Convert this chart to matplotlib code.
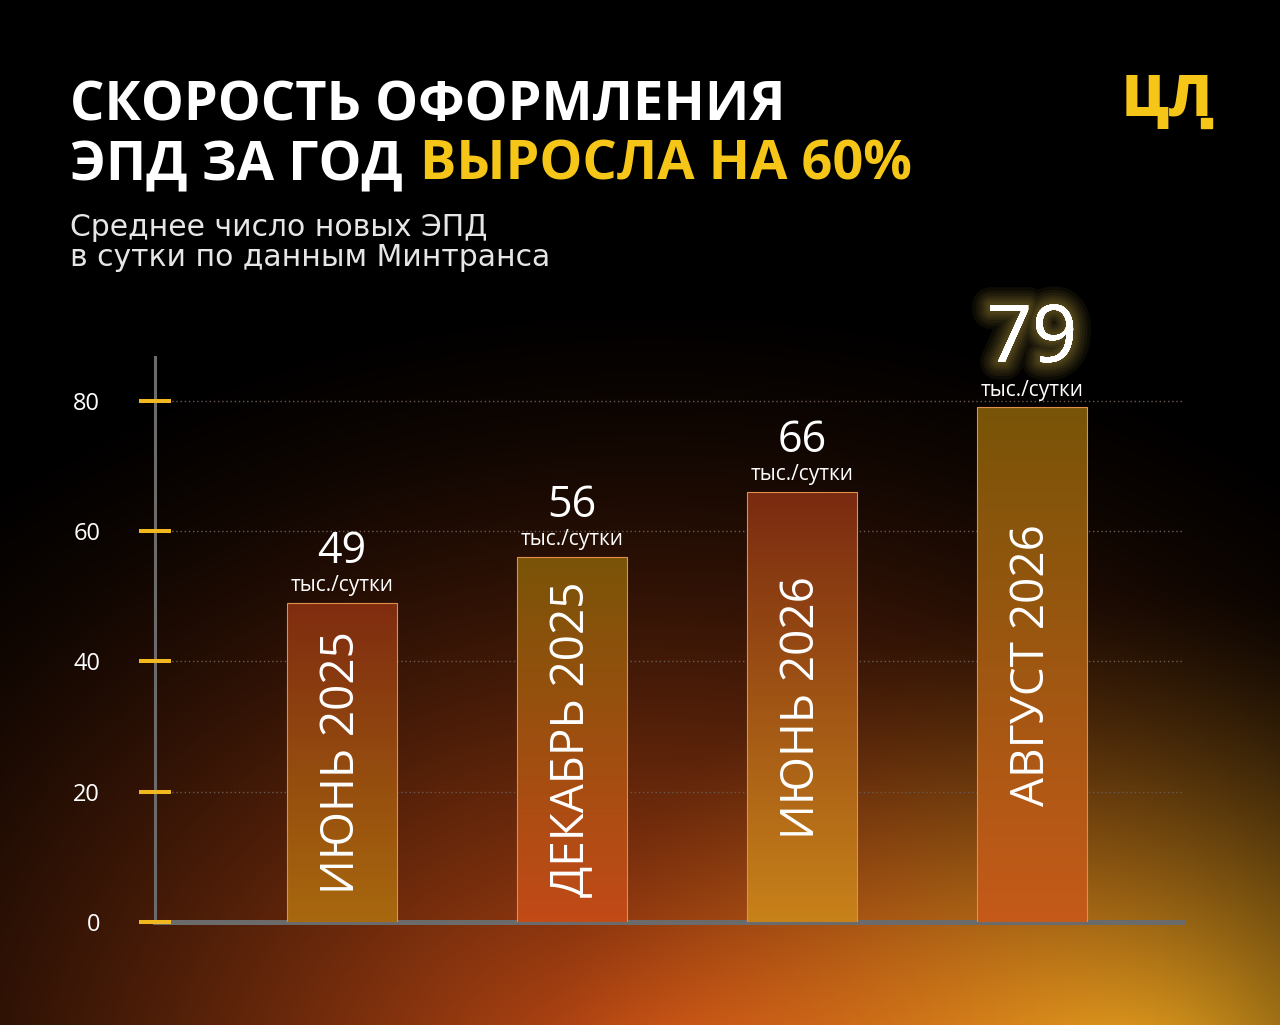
import numpy as np
import matplotlib
matplotlib.use('Agg')
import matplotlib.pyplot as plt
import matplotlib.patheffects as pe
from matplotlib.colors import to_rgb
from matplotlib.patches import Rectangle

# data
periods = ['ИЮНЬ 2025', 'ДЕКАБРЬ 2025', 'ИЮНЬ 2026', 'АВГУСТ 2026']
values = [49, 56, 66, 79]
unit = 'тыс./сутки'
y_ticks = [0, 20, 40, 60, 80]
bar_top_colors = ['#7f2c10', '#7a5408', '#7a2a10', '#785408']
bar_bottom_colors = ['#a8680e', '#c24a18', '#c8821a', '#c55a1a']

W, H = 1280, 1025
FONT = 'Open Sans'
YELLOW = '#f5c518'
plt.rcParams['font.family'] = [FONT, 'DejaVu Sans']

fig = plt.figure(figsize=(W / 100, H / 100), dpi=100)

# background: dark with an orange / gold glow at the bottom
yy, xx = np.mgrid[0:H, 0:W]
def glow(cx, cy, rx, ry, power):
    d = np.sqrt(((xx - cx) / rx) ** 2 + ((yy - cy) / ry) ** 2)
    return np.clip(1 - d, 0, 1) ** power

g1 = glow(650, 1100, 1050, 820, 1.5)
g2 = glow(1150, 1100, 620, 520, 1.5)
bg = g1[..., None] * np.array(to_rgb('#d05016')) + g2[..., None] * np.array(to_rgb('#a89018'))
fig.figimage(np.clip(bg, 0, 1), xo=0, yo=0, origin='upper', zorder=-10)

# chart area
ax = fig.add_axes([155 / W, (H - 922) / H, (1182 - 155) / W, (922 - 357) / H])
ax.set_facecolor('none')
x = np.arange(len(values))
bars = ax.bar(x, values, width=0.48, color='none', edgecolor='#e0904a',
              linewidth=0.8, zorder=3)

glow_fx = [pe.withStroke(linewidth=w, foreground=(1, 0.85, 0.35, 0.05))
           for w in (26, 21, 17, 13, 10, 7, 4)] + [pe.Normal()]

for i, b in enumerate(bars):
    top = np.array(to_rgb(bar_top_colors[i]))
    bot = np.array(to_rgb(bar_bottom_colors[i]))
    t = np.linspace(0, 1, 256)[:, None, None]
    grad = top * (1 - t) + bot * t
    x0, y0 = b.get_x(), b.get_y()
    im = ax.imshow(grad, extent=[x0, x0 + b.get_width(), y0, y0 + b.get_height()],
                   origin='upper', aspect='auto', zorder=2.5)
    im.set_clip_path(b)

    ax.text(i, values[i] / 2, periods[i], rotation=90, ha='center', va='center',
            fontsize=33, color='white', zorder=5)

    last = i == len(values) - 1
    ax.annotate(str(values[i]), (i, values[i]), xytext=(0, 33 if last else 29),
                textcoords='offset points', ha='center', va='baseline',
                fontsize=57 if last else 31, color='white', zorder=6,
                path_effects=glow_fx if last else [])
    ax.annotate(unit, (i, values[i]), xytext=(0, 8.5), textcoords='offset points',
                ha='center', va='baseline', fontsize=15, color='white', zorder=6)

ax.set_xlim(-0.813, 3.652)
ax.set_ylim(0, 86.75)
ax.set_yticks(y_ticks)
ax.set_axisbelow('line')
ax.yaxis.grid(True, linestyle=(0, (1, 2)), color='#6a5a52', linewidth=1)
ax.tick_params(axis='y', direction='inout', length=23, width=2.9, color='#f2b81f',
               labelcolor='white', labelsize=17, pad=28)
ax.tick_params(axis='x', length=0, labelbottom=False)
for s in ['top', 'right']:
    ax.spines[s].set_visible(False)
ax.spines['left'].set_color('#6b6b6b')
ax.spines['left'].set_linewidth(2.2)
ax.spines['bottom'].set_color('#6b6b6b')
ax.spines['bottom'].set_linewidth(3.6)
ax.spines['left'].set_zorder(1.2)
ax.spines['bottom'].set_zorder(1.2)

# titles
fig.text(70 / W, 1 - 120 / H, 'СКОРОСТЬ ОФОРМЛЕНИЯ', fontsize=39, weight='bold',
         color='white', va='baseline')
t2 = fig.text(70 / W, 1 - 180 / H, 'ЭПД ЗА ГОД', fontsize=39, weight='bold',
              color='white', va='baseline')
renderer = fig.canvas.get_renderer()
bb = t2.get_window_extent(renderer)
fig.text((bb.x1 + 17) / W, 1 - 180 / H, 'ВЫРОСЛА НА 60%', fontsize=39, weight='bold',
         color=YELLOW, va='baseline')
fig.text(70 / W, 1 - 236 / H, 'Среднее число новых ЭПД', fontsize=21.5,
         family='DejaVu Sans', color='#e6e6e6', va='baseline')
fig.text(70 / W, 1 - 266 / H, 'в сутки по данным Минтранса', fontsize=21.5,
         family='DejaVu Sans', color='#e6e6e6', va='baseline')

# logo
fig.text(1122 / W, 1 - 116 / H, 'ЦЛ', fontsize=41, weight='heavy', color=YELLOW,
         va='baseline')
fig.patches.append(Rectangle((1201 / W, 1 - 128 / H), 11 / W, 10 / H,
                             transform=fig.transFigure, color=YELLOW))

fig.savefig('out.png', dpi=100)
